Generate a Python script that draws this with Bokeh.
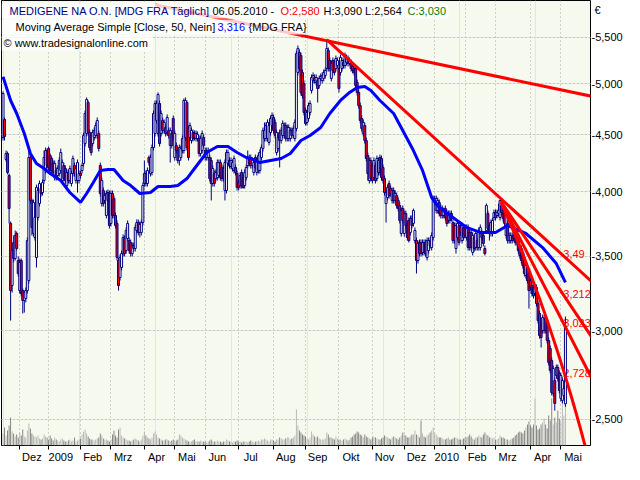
import numpy as np
import pandas as pd
from bokeh.plotting import figure
from bokeh.models import (ColumnDataSource, Range1d, LinearAxis, LogAxis, LogScale, LinearScale,
                          FixedTicker, CustomJSTickFormatter, Label, Grid, BoxAnnotation)
from bokeh.core.properties import value
from bokeh.embed import file_html
from bokeh.resources import INLINE

# ---------------- data ----------------
holidays = ["2008-12-24", "2008-12-25", "2008-12-26", "2008-12-31", "2009-01-01",
            "2009-04-10", "2009-04-13", "2009-05-01", "2009-12-24", "2009-12-25",
            "2009-12-31", "2010-01-01", "2010-04-02", "2010-04-05"]
dates = pd.bdate_range("2008-11-14", "2010-05-06", freq="C", holidays=holidays)

month_labels = ["Dez", "2009", "Feb", "Mrz", "Apr", "Mai", "Jun", "Jul", "Aug", "Sep",
                "Okt", "Nov", "Dez", "2010", "Feb", "Mrz", "Apr", "Mai"]
price_ticks = [2.5, 3.0, 3.5, 4.0, 4.5, 5.0, 5.5]
currency = "\u20ac"

opens = [4.473,4.643,4.274,4.327,4.135,3.745,3.294,3.600,3.483,3.668,3.469,3.260,3.469,3.260,3.194,3.207,3.260,3.328,4.292,3.927,
3.668,3.638,3.490,3.791,3.902,4.025,3.992,4.092,4.178,4.354,4.372,4.309,4.283,4.239,4.118,4.178,4.135,4.152,4.178,4.092,
4.221,4.195,4.050,4.161,4.092,4.067,4.152,4.221,4.092,4.092,4.092,4.152,4.178,4.239,4.417,4.510,4.808,4.519,4.491,4.417,
4.473,4.491,4.491,4.510,4.221,3.902,4.009,3.927,3.807,3.992,3.984,3.745,3.984,3.943,3.807,3.745,3.469,3.349,3.419,3.519,
3.630,3.541,3.630,3.615,3.600,3.519,3.578,3.556,3.691,3.752,3.676,3.676,3.752,4.067,4.152,4.067,4.292,4.152,4.161,4.381,
4.510,4.633,4.510,4.798,4.510,4.633,4.538,4.566,4.519,4.538,4.399,4.510,4.652,4.292,4.399,4.354,4.265,4.292,4.354,4.354,
4.473,4.808,4.557,4.473,4.445,4.519,4.510,4.463,4.463,4.463,4.327,4.354,4.473,4.354,4.292,4.292,4.292,4.265,4.067,4.152,
4.109,4.118,4.135,4.247,4.204,4.195,4.009,4.009,4.239,4.265,4.212,4.195,4.178,4.204,4.152,4.075,4.050,4.161,4.118,4.050,
4.118,4.221,4.292,4.292,4.221,4.161,4.292,4.161,4.178,4.178,4.292,4.372,4.463,4.463,4.463,4.427,4.519,4.585,4.662,4.614,
4.336,4.372,4.519,4.445,4.491,4.491,4.585,4.463,4.463,4.463,4.538,4.491,4.463,4.557,5.116,5.331,5.298,5.116,5.001,4.729,
4.614,4.652,4.710,4.929,5.032,5.063,5.011,5.032,4.980,5.053,5.032,5.053,5.084,5.158,5.353,5.244,5.053,5.244,5.223,5.158,
5.190,5.158,5.116,5.158,5.223,5.190,5.223,5.266,5.212,5.223,5.179,5.158,5.158,5.011,4.909,4.778,4.652,4.510,4.585,4.445,
4.309,4.092,4.265,4.221,4.118,4.221,4.109,4.161,4.292,4.283,4.204,4.109,3.902,3.951,4.067,4.025,3.927,4.009,3.927,3.967,
3.927,3.886,3.668,3.862,3.668,3.823,3.745,3.768,3.676,3.784,3.745,3.615,3.615,3.469,3.600,3.600,3.527,3.600,3.600,3.490,
3.541,3.615,3.563,3.638,3.911,3.846,3.846,3.911,3.870,3.807,3.807,3.862,3.830,3.768,3.823,3.823,3.752,3.729,3.556,3.638,
3.729,3.714,3.615,3.714,3.714,3.638,3.714,3.676,3.676,3.527,3.638,3.563,3.615,3.563,3.563,3.676,3.653,3.556,3.691,3.823,
3.729,3.668,3.668,3.791,3.830,3.807,3.823,3.791,3.886,3.846,3.823,3.653,3.745,3.615,3.615,3.653,3.653,3.653,3.638,3.615,
3.578,3.556,3.527,3.490,3.363,3.419,3.377,3.328,3.294,3.281,3.240,3.281,3.174,3.109,3.033,3.002,3.002,3.077,3.064,2.940,
2.892,2.821,2.636,2.707,2.735,2.781,2.747,2.609,2.598,2.625,2.580]
highs = [4.919,4.662,4.354,4.345,4.152,3.760,3.563,3.653,3.691,3.683,3.498,3.483,3.483,3.274,3.260,3.281,3.638,4.354,4.309,3.943,
3.935,3.815,4.058,4.034,4.092,4.050,4.101,4.354,4.381,4.372,4.390,4.327,4.300,4.265,4.265,4.204,4.221,4.292,4.372,4.274,
4.247,4.221,4.187,4.187,4.221,4.178,4.309,4.247,4.221,4.274,4.178,4.178,4.247,4.519,4.729,4.858,4.828,4.547,4.519,4.547,
4.566,4.614,4.662,4.538,4.247,4.118,4.034,3.992,4.009,4.017,4.009,4.009,4.009,3.967,3.830,3.768,3.490,3.512,3.541,3.661,
3.653,3.714,3.768,3.638,3.623,3.600,3.600,3.737,3.776,3.776,3.760,3.776,4.075,4.265,4.178,4.204,4.309,4.318,4.408,4.729,
4.828,4.828,4.909,4.828,4.729,4.662,4.643,4.595,4.691,4.566,4.566,4.538,4.681,4.538,4.427,4.381,4.408,4.399,4.491,4.848,
4.858,4.828,4.585,4.614,4.566,4.547,4.538,4.538,4.529,4.491,4.491,4.538,4.500,4.381,4.381,4.381,4.318,4.292,4.221,4.178,
4.187,4.274,4.274,4.274,4.230,4.221,4.274,4.363,4.363,4.292,4.292,4.274,4.309,4.230,4.178,4.101,4.161,4.187,4.144,4.187,
4.230,4.354,4.318,4.318,4.292,4.274,4.318,4.292,4.336,4.363,4.408,4.566,4.614,4.614,4.643,4.614,4.681,4.710,4.691,4.643,
4.547,4.500,4.547,4.566,4.633,4.614,4.614,4.595,4.595,4.566,4.566,4.585,4.643,5.353,5.409,5.364,5.331,5.148,5.032,4.758,
4.739,4.808,4.828,5.095,5.116,5.095,5.095,5.063,5.084,5.105,5.116,5.148,5.169,5.465,5.386,5.277,5.244,5.277,5.255,5.298,
5.277,5.190,5.309,5.277,5.255,5.331,5.309,5.298,5.277,5.255,5.212,5.190,5.190,5.042,4.939,4.808,4.681,4.643,4.614,4.472,
4.336,4.292,4.292,4.247,4.292,4.247,4.309,4.292,4.318,4.309,4.230,4.135,4.017,4.058,4.092,4.050,4.034,4.034,4.009,3.992,
3.951,3.911,3.870,3.886,3.846,3.846,3.768,3.791,3.807,3.807,3.862,3.714,3.638,3.615,3.623,3.623,3.623,3.623,3.623,3.638,
3.638,3.638,3.676,3.967,3.967,3.967,3.951,3.935,3.894,3.886,3.870,3.886,3.854,3.846,3.846,3.846,3.776,3.752,3.752,3.768,
3.752,3.737,3.752,3.737,3.737,3.737,3.737,3.699,3.699,3.676,3.661,3.691,3.638,3.714,3.737,3.699,3.676,3.578,3.902,3.846,
3.752,3.776,3.791,3.854,3.854,3.854,3.902,3.927,3.911,3.870,3.846,3.830,3.768,3.676,3.676,3.676,3.676,3.676,3.661,3.638,
3.600,3.578,3.548,3.512,3.455,3.440,3.398,3.349,3.315,3.301,3.301,3.301,3.194,3.128,3.052,3.102,3.096,3.096,3.083,2.959,
2.910,2.839,2.792,2.724,2.798,2.798,2.764,2.752,2.724,2.680,3.090]
lows = [4.445,4.445,4.256,4.144,3.745,3.064,3.247,3.455,3.469,3.541,3.356,3.240,3.220,3.109,3.115,3.181,3.240,3.308,3.902,3.653,
3.645,3.615,3.419,3.768,3.878,3.959,3.967,4.067,4.152,4.195,4.178,4.152,4.152,4.135,4.092,4.092,4.109,4.126,4.152,4.067,
4.084,4.067,4.025,4.067,4.067,4.042,4.126,4.126,4.067,3.992,4.067,4.109,4.152,4.212,4.390,4.482,4.491,4.354,4.309,4.390,
4.445,4.463,4.463,4.345,3.959,3.878,3.878,3.902,3.784,3.902,3.706,3.721,3.784,3.784,3.706,3.469,3.260,3.328,3.398,3.498,
3.498,3.519,3.608,3.519,3.498,3.498,3.534,3.534,3.668,3.653,3.638,3.653,3.729,4.042,4.042,4.042,4.221,4.126,4.135,4.354,
4.482,4.604,4.482,4.390,4.482,4.510,4.510,4.482,4.491,4.463,4.247,4.372,4.445,4.265,4.327,4.239,4.221,4.265,4.327,4.327,
4.445,4.354,4.265,4.445,4.417,4.436,4.445,4.436,4.436,4.300,4.300,4.327,4.372,4.265,4.265,4.265,4.084,3.927,4.042,4.042,
4.084,4.092,4.109,4.092,4.084,4.084,3.927,3.984,4.212,4.195,4.187,4.169,4.152,4.135,4.009,4.009,4.025,4.025,4.025,4.025,
4.092,4.195,4.212,4.195,4.195,4.135,4.178,4.135,4.152,4.152,4.265,4.345,4.436,4.436,4.436,4.399,4.491,4.557,4.510,4.463,
4.309,4.345,4.204,4.417,4.463,4.463,4.436,4.436,4.436,4.436,4.463,4.463,4.436,4.529,5.084,5.126,4.878,4.848,4.681,4.585,
4.585,4.623,4.681,4.898,5.001,5.001,4.980,4.808,4.949,5.022,5.001,5.022,5.053,5.126,5.126,5.126,5.022,5.105,5.084,5.126,
5.158,4.909,5.084,5.126,5.158,5.158,5.190,5.179,5.190,5.126,5.105,5.084,4.949,4.878,4.749,4.604,4.529,4.482,4.417,4.256,
4.092,4.067,4.084,4.067,4.092,4.067,4.084,4.135,4.135,4.092,4.067,3.967,3.752,3.927,3.943,3.959,3.902,3.902,3.902,3.862,
3.838,3.745,3.645,3.745,3.645,3.706,3.615,3.600,3.653,3.706,3.721,3.593,3.377,3.447,3.498,3.498,3.505,3.505,3.498,3.469,
3.519,3.556,3.541,3.615,3.886,3.823,3.823,3.799,3.784,3.784,3.784,3.768,3.721,3.745,3.745,3.760,3.593,3.593,3.519,3.615,
3.578,3.653,3.593,3.615,3.630,3.615,3.541,3.541,3.541,3.505,3.534,3.541,3.541,3.541,3.541,3.615,3.571,3.505,3.668,3.683,
3.615,3.645,3.645,3.768,3.768,3.784,3.799,3.768,3.807,3.760,3.721,3.630,3.593,3.593,3.593,3.593,3.608,3.578,3.578,3.519,
3.483,3.447,3.412,3.356,3.342,3.308,3.141,3.260,3.220,3.207,3.220,3.154,3.045,2.952,2.898,2.983,2.983,2.983,2.922,2.792,
2.747,2.625,2.620,2.544,2.718,2.702,2.636,2.593,2.582,2.609,2.564]
closes = [4.898,4.482,4.327,4.161,3.862,3.260,3.541,3.483,3.653,3.556,3.377,3.455,3.240,3.194,3.247,3.260,3.615,4.292,3.927,3.714,
3.911,3.791,4.034,4.009,4.067,3.984,4.075,4.292,4.354,4.221,4.204,4.178,4.178,4.161,4.239,4.118,4.195,4.265,4.336,4.247,
4.109,4.092,4.161,4.092,4.195,4.152,4.283,4.152,4.195,4.247,4.152,4.135,4.221,4.491,4.700,4.838,4.519,4.381,4.336,4.519,
4.538,4.585,4.633,4.372,3.984,4.092,3.902,3.967,3.984,3.927,3.729,3.984,3.807,3.807,3.729,3.490,3.294,3.490,3.519,3.638,
3.519,3.691,3.745,3.541,3.519,3.578,3.556,3.714,3.752,3.676,3.737,3.752,4.050,4.152,4.067,4.178,4.247,4.292,4.381,4.700,
4.798,4.798,4.888,4.417,4.700,4.538,4.614,4.510,4.662,4.491,4.538,4.399,4.473,4.510,4.354,4.265,4.381,4.372,4.463,4.828,
4.828,4.381,4.292,4.585,4.538,4.463,4.473,4.510,4.500,4.327,4.463,4.510,4.399,4.292,4.354,4.354,4.109,4.067,4.195,4.067,
4.161,4.247,4.247,4.118,4.109,4.109,4.247,4.336,4.336,4.221,4.265,4.247,4.283,4.161,4.034,4.034,4.135,4.050,4.034,4.161,
4.204,4.292,4.239,4.221,4.265,4.247,4.204,4.265,4.309,4.336,4.381,4.538,4.538,4.585,4.614,4.585,4.652,4.681,4.538,4.491,
4.519,4.473,4.445,4.538,4.604,4.585,4.463,4.566,4.566,4.538,4.491,4.557,4.614,5.320,5.375,5.158,4.909,4.878,4.710,4.604,
4.710,4.778,4.798,5.063,5.084,5.032,5.063,4.949,5.053,5.074,5.084,5.116,5.137,5.375,5.158,5.158,5.212,5.137,5.116,5.266,
5.244,4.949,5.277,5.244,5.190,5.298,5.277,5.212,5.244,5.158,5.137,5.116,4.980,4.909,4.778,4.633,4.557,4.614,4.445,4.283,
4.152,4.265,4.109,4.092,4.265,4.092,4.283,4.265,4.161,4.118,4.092,3.992,3.992,4.034,3.967,3.984,4.009,3.927,3.984,3.886,
3.862,3.768,3.846,3.768,3.823,3.729,3.638,3.615,3.784,3.729,3.846,3.691,3.469,3.593,3.519,3.519,3.600,3.527,3.519,3.615,
3.615,3.578,3.653,3.943,3.943,3.943,3.927,3.823,3.807,3.862,3.846,3.791,3.745,3.823,3.768,3.784,3.615,3.615,3.729,3.745,
3.600,3.676,3.729,3.638,3.653,3.714,3.563,3.563,3.563,3.653,3.556,3.668,3.563,3.691,3.714,3.638,3.593,3.519,3.886,3.706,
3.668,3.752,3.768,3.830,3.791,3.830,3.846,3.927,3.830,3.784,3.745,3.807,3.615,3.653,3.653,3.615,3.630,3.600,3.600,3.541,
3.505,3.469,3.433,3.377,3.433,3.328,3.260,3.281,3.240,3.227,3.281,3.174,3.064,2.971,2.959,3.083,3.077,3.002,2.940,2.810,
2.764,2.641,2.775,2.582,2.781,2.718,2.652,2.735,2.707,2.663,3.030]
# daily volume, thousands of shares
volume_k = [120,180,100,150,200,280,140,120,90,110,80,130,100,160,90,80,150,220,170,120,100,
90,80,100,70,60,70,110,90,80,60,100,70,50,80,60,50,40,60,70,50,40,40,50,60,40,50,80,40,50,60,
70,110,140,160,120,90,70,60,60,50,60,70,80,120,100,70,60,60,50,40,60,110,150,100,80,160,180,100,80,70,
60,50,50,40,50,60,70,60,50,40,60,100,140,100,80,70,60,80,120,140,110,80,70,60,50,50,60,60,50,40,
50,60,40,50,60,110,100,80,70,60,50,40,40,40,50,60,40,40,40,50,40,40,40,30,40,50,60,40,40,40,
50,40,40,30,40,40,60,50,40,40,30,40,40,50,40,40,30,40,40,40,30,40,50,40,30,40,40,50,40,60,
60,70,60,50,40,60,60,50,40,60,60,80,70,60,60,70,80,80,60,70,80,100,360,200,150,130,110,100,90,70,
60,80,140,110,90,80,90,70,60,60,60,70,130,110,80,80,70,60,90,70,60,60,50,60,70,60,50,60,80,90,
110,120,140,130,110,100,80,110,90,80,
70,60,80,90,80,70,60,60,70,80,100,90,80,70,60,80,90,80,70,60,80,100,130,110,100,80,80,90,110,110,
150,110,100,80,250,120,90,80,100,110,
130,150,180,130,110,90,80,80,70,60,60,70,80,60,60,70,80,80,70,60,60,60,70,80,80,90,110,90,70,60,
80,80,100,90,80,110,130,110,100,80,
80,70,80,60,60,70,100,80,80,70,60,60,50,60,70,80,100,110,130,140,130,120,150,180,210,240,200,180,210,470,
200,160,170,210,230,270,210,170,300,250,470,210,280,230,350,270,240,450,300,550]

# 50-day simple moving average
ma_idx = [0,5,9,14,18,22,27,31,38,44,51,55,59,64,69,73,79,84,90,97,102,110,115,121,125,130,134,141,148,154,
          160,163,169,176,183,189,196,202,209,215,222,228,233,238,242,248,257,263,270,276,282,287,296,305,314,
          324,332,344,355,364,370]
ma_val = [5.07,4.828,4.700,4.51,4.327,4.238,4.195,4.152,4.092,3.992,3.911,3.984,4.067,4.178,4.187,4.187,4.092,
          4.050,3.984,3.992,4.042,4.042,4.050,4.109,4.178,4.265,4.336,4.390,4.390,4.336,4.292,4.283,4.247,4.265,
          4.283,4.327,4.445,4.491,4.566,4.700,4.828,4.909,4.960,4.970,4.929,4.828,4.700,4.538,4.354,4.178,3.951,
          3.870,3.791,3.714,3.676,3.676,3.729,3.668,3.563,3.447,3.316]

# trend lines (bar index, price) start -> end
trend_x0 = [100, 213, 327.5, 327.5]
trend_p0 = [5.885, 5.476, 3.92, 3.92]
trend_x1 = [388, 388, 388, 388]
trend_p1 = [4.868, 3.314, 2.952, 2.708]
# steepest fan line (linear in price): anchor and value at last bar
fan_x = [327.5, 370]
fan_p = [3.92, 2.728]

line_labels = ["3,49", "3,212", "3,023", "2,728"]
line_label_vals = [3.49, 3.212, 3.023, 2.728]

# ---------------- figure ----------------
n = len(closes)
idx = np.arange(n)
month_idx = [i for i in range(1, len(dates)) if dates[i].month != dates[i - 1].month]

FONT = "Liberation Sans"
FW, FH = 589, 445
YMIN, YMAX = 2.367, 5.936
XMIN, XMAX = -1.0, 386.5


def bar_at(px):      # screen x (from canvas left) -> bar coordinate
    return XMIN + (px - 1) * (XMAX - XMIN) / FW


def price_at(py):    # screen y (from top) -> price
    return YMAX * (YMIN / YMAX) ** (py / FH)


p = figure(frame_width=FW, frame_height=FH, x_range=Range1d(XMIN, XMAX), y_range=Range1d(YMIN, YMAX),
           y_axis_type="log", x_axis_location=None, y_axis_location=None,
           output_backend="svg", toolbar_location=None,
           min_border_left=1, min_border_right=0, min_border_top=0, min_border_bottom=0,
           background_fill_color="#F6FAEE", border_fill_color="white",
           outline_line_color="black", outline_line_width=1)
p.y_scale = LogScale()

p.add_layout(Grid(dimension=0, ticker=FixedTicker(ticks=month_idx), grid_line_color="#A8A8A8",
                  grid_line_dash="1 3"))
p.add_layout(Grid(dimension=1, ticker=FixedTicker(ticks=price_ticks), grid_line_color="#A8A8A8",
                  grid_line_dash="1 3"))

cur_tick = price_at(9)
yax = LogAxis(ticker=FixedTicker(ticks=price_ticks + [cur_tick]),
              formatter=CustomJSTickFormatter(
                  args=dict(top=cur_tick, cur=currency),
                  code="if (Math.abs(tick - top) < 1e-6) { return '\u00a0' + cur; } "
                       "return '-' + tick.toFixed(3).replace('.', ',');"),
              major_tick_out=0, major_tick_in=0, minor_tick_out=0, minor_tick_in=0,
              axis_line_color=None, major_label_standoff=1,
              major_label_text_font=FONT, major_label_text_font_size="11px",
              major_label_text_color="black")
p.add_layout(yax, "right")

xax1 = LinearAxis(ticker=FixedTicker(ticks=month_idx), major_tick_out=4, major_tick_in=0,
                  axis_line_color=None, major_label_text_font_size="0px", major_label_standoff=0,
                  major_label_overrides={m: "" for m in month_idx})
p.add_layout(xax1, "below")
lab_pos = [m + 8 for m in month_idx]
xax2 = LinearAxis(ticker=FixedTicker(ticks=lab_pos), major_tick_out=0, major_tick_in=0,
                  axis_line_color=None, major_label_standoff=1,
                  major_label_overrides={pos: lab for pos, lab in zip(lab_pos, month_labels)},
                  major_label_text_font=FONT, major_label_text_font_size="11px",
                  major_label_text_color="black")
p.add_layout(xax2, "below")

# volume (own linear scale at the bottom)
p.extra_y_ranges = {"vol": Range1d(0, FH * 10)}
p.extra_y_scales = {"vol": LinearScale()}
vsrc = ColumnDataSource(dict(x=idx, v=volume_k,
                             c=["#B4B4B4" if c >= o else "#7C7C7C" for o, c in zip(opens, closes)]))
p.vbar(x="x", width=0.6, top="v", bottom=0, source=vsrc, y_range_name="vol",
       fill_color="c", line_color=None)

# line value labels
p.text(x=[368.6] * len(line_labels), y=line_label_vals, text=line_labels, text_color="#FF0000",
       text_font=value(FONT), text_font_size="11px", text_baseline="bottom", text_align="left")

# candles
src = ColumnDataSource(dict(
    x=idx, top=np.maximum(opens, closes), bottom=np.minimum(opens, closes), high=highs, low=lows,
    fill=["white" if c >= o else "#FF0000" for o, c in zip(opens, closes)]))
p.segment(x0="x", y0="low", x1="x", y1="high", source=src, line_color="#000080", line_width=1)
p.vbar(x="x", width=1.3, top="top", bottom="bottom", source=src, fill_color="fill",
       line_color="#000080", line_width=1)

# moving average
p.line(ma_idx, ma_val, line_color="#0000FF", line_width=3)

# trend lines
for x0, p0, x1, p1 in zip(trend_x0, trend_p0, trend_x1, trend_p1):
    p.line([x0, x1], [p0, p1], line_color="#FF0000", line_width=3)
fx = np.linspace(fan_x[0], 388, 80)
fslope = (fan_p[1] - fan_p[0]) / (fan_x[1] - fan_x[0])
p.line(fx, fan_p[0] + fslope * (fx - fan_x[0]), line_color="#FF0000", line_width=3)

# header: translucent white boxes behind each text line, then the coloured text
header = [
    (10, 448, [(8, "MEDIGENE NA O.N. [MDG FRA  Täglich]", "#000080"), (211, "06.05.2010 -", "black"),
               (279, "O:2,580", "#FF0000"), (322, "H:3,090 L:2,564", "black"), (406, "C:3,030", "#008000")]),
    (26, 304, [(14, "Moving Average Simple [Close, 50, Nein]", "black"), (216, "3,316", "#0000FF"),
               (247, "{MDG FRA}", "black")]),
    (42, 152, [(2, "\u00a9 www.tradesignalonline.com", "black")]),
]
for yoff, right_px, segs in header:
    p.add_layout(BoxAnnotation(left=XMIN, right=bar_at(right_px), top=price_at(yoff - 7),
                               bottom=price_at(yoff + 8), fill_color="white", fill_alpha=0.78,
                               line_color=None))
for yoff, right_px, segs in header:
    for x, t, c in segs:
        p.add_layout(Label(x=x, y=FH - yoff, x_units="screen", y_units="screen", text=t,
                           text_color=c, text_font=FONT, text_font_size="11px",
                           text_baseline="middle"))

open("out.html", "w").write(file_html(p, INLINE))
